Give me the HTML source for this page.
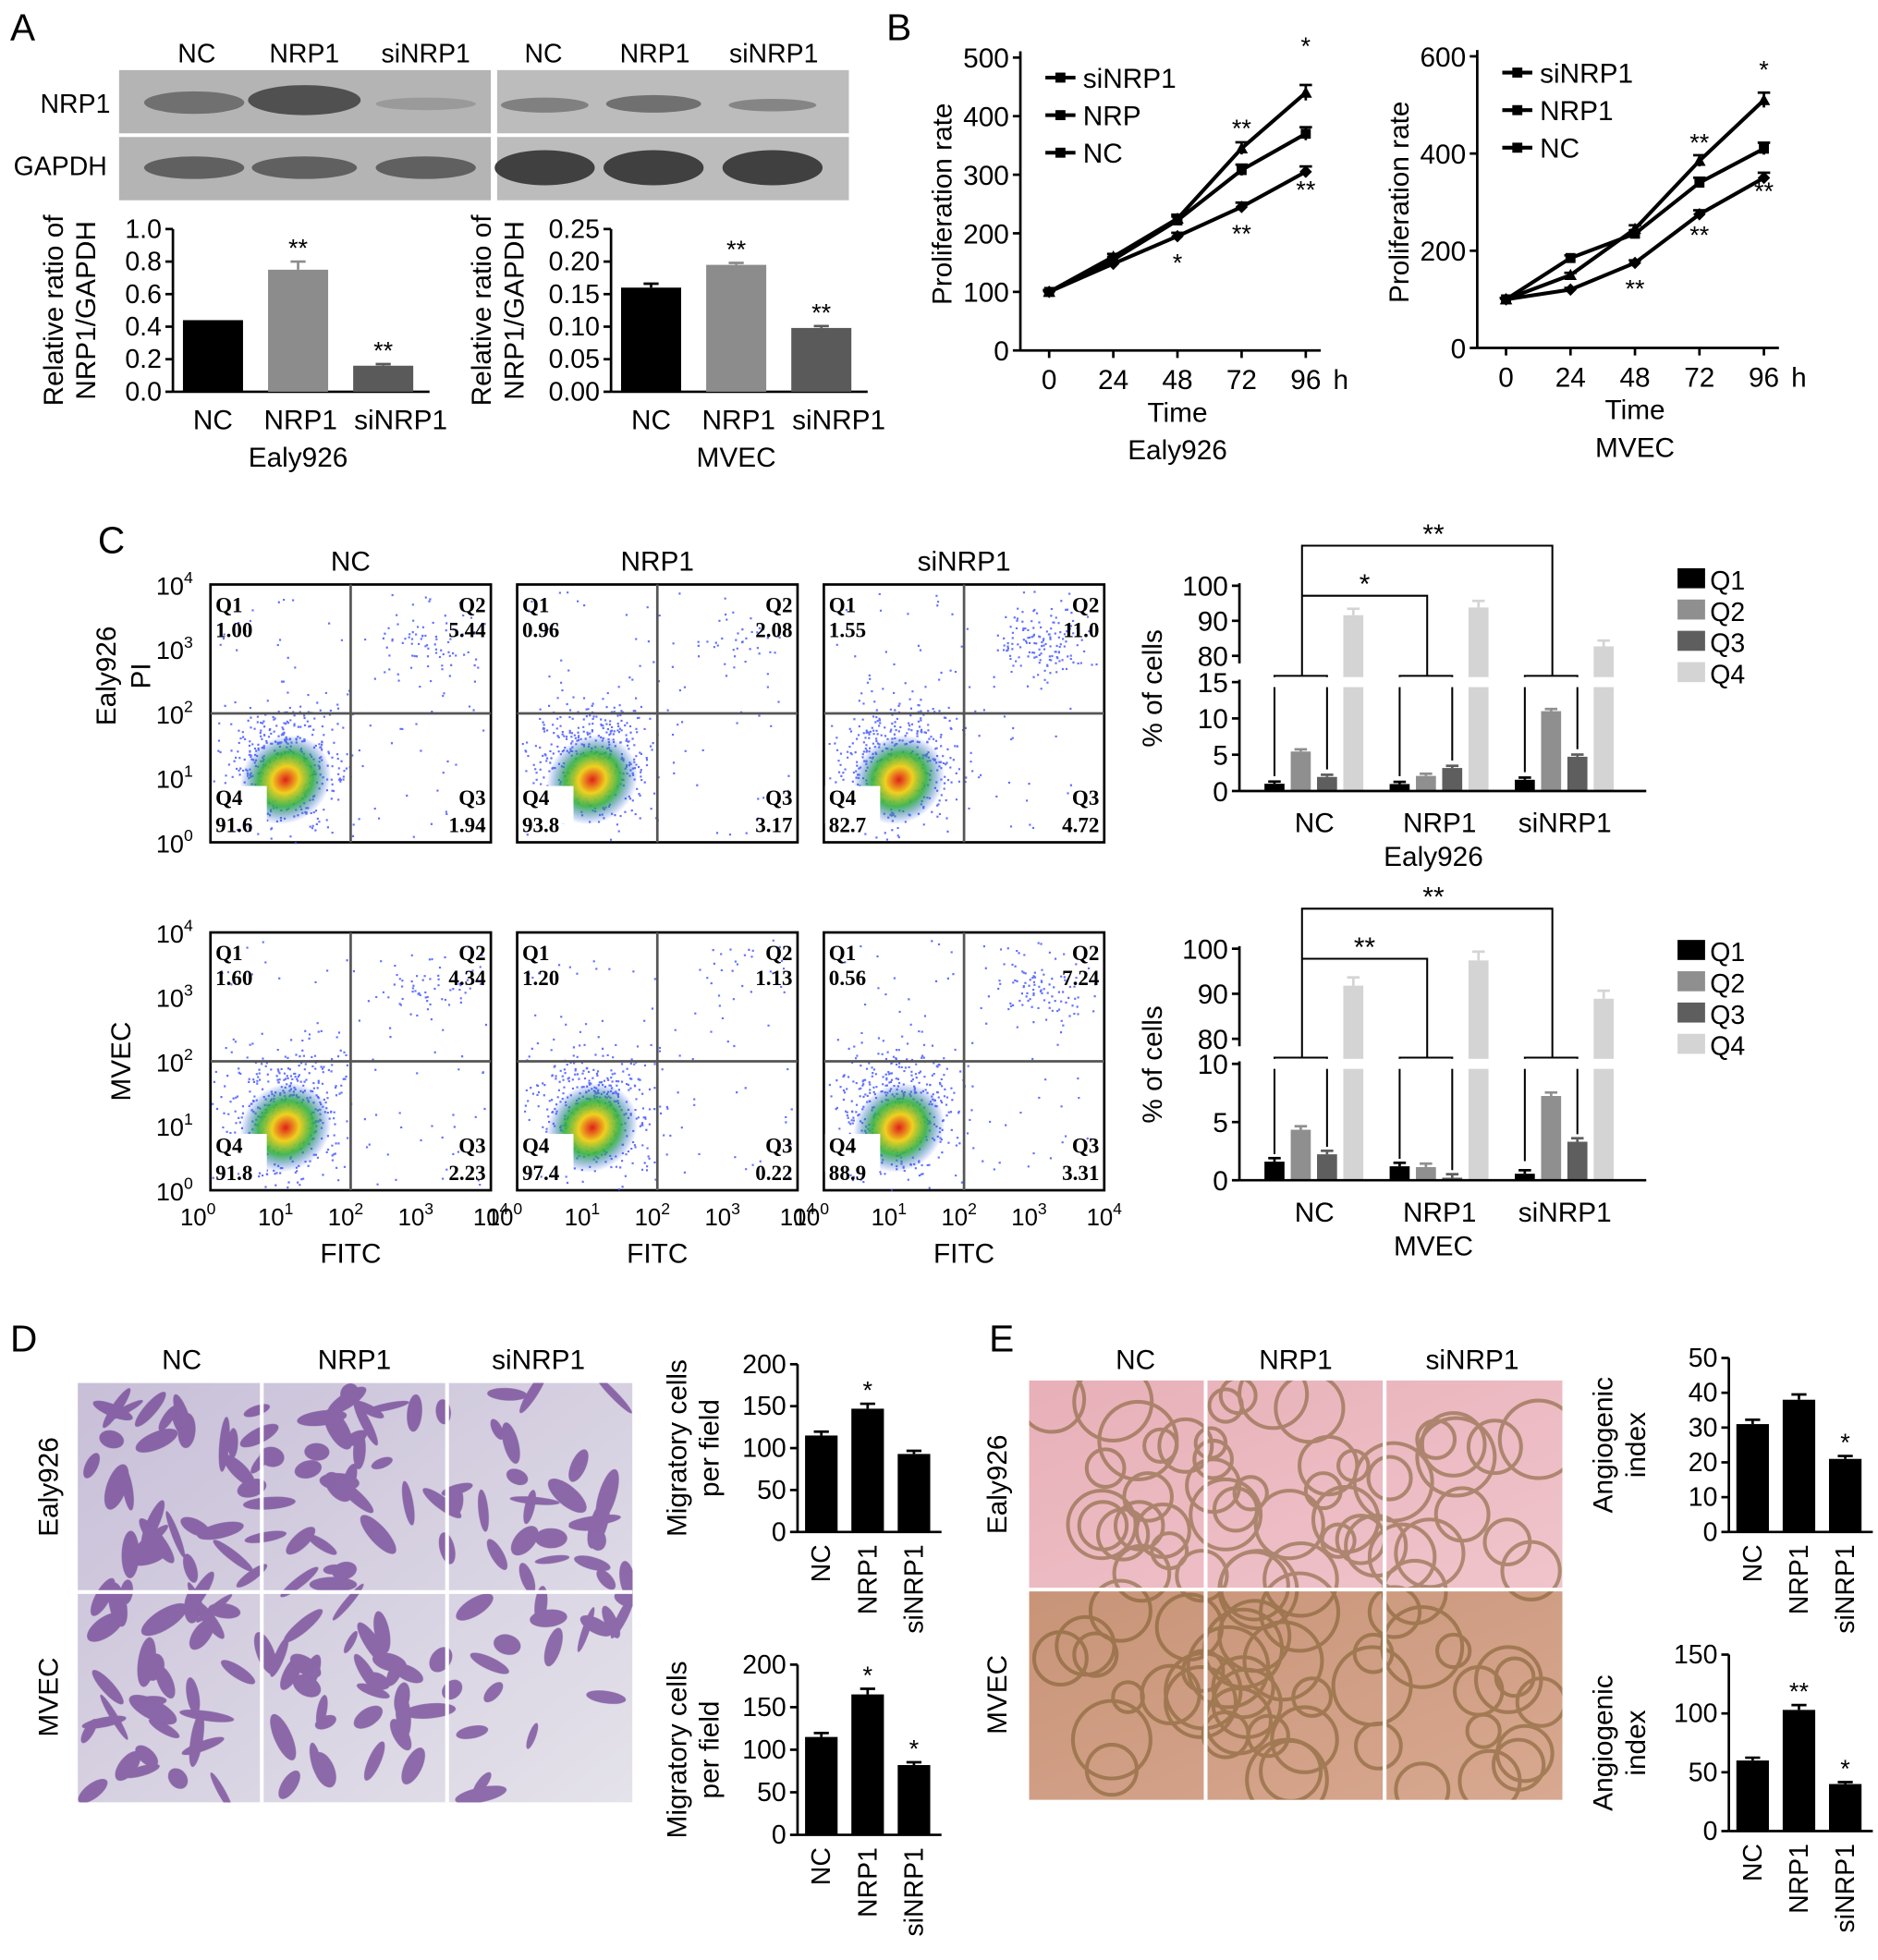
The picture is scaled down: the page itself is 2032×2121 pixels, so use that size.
<!DOCTYPE html>
<html><head><meta charset="utf-8"><style>
html,body{margin:0;padding:0;background:#fff}
svg{display:block;font-family:"Liberation Sans",Arial,sans-serif}
</style></head><body>
<svg id="fig" xmlns="http://www.w3.org/2000/svg" width="2032" height="2121" viewBox="0 0 1500 1566">
<defs>
<radialGradient id="dens"><stop offset="0" stop-color="#e0201a"/><stop offset="0.3" stop-color="#f0d020"/><stop offset="0.6" stop-color="#30b040" stop-opacity="0.9"/><stop offset="1" stop-color="#2040ff" stop-opacity="0"/></radialGradient>
<linearGradient id="imgD1" x1="0" y1="0" x2="1" y2="1"><stop offset="0" stop-color="#c8bfd8"/><stop offset="1" stop-color="#e4e2ea"/></linearGradient>
<linearGradient id="imgE1" x1="0" y1="0" x2="1" y2="1"><stop offset="0" stop-color="#e8b0b8"/><stop offset="1" stop-color="#f0c4cc"/></linearGradient>
<linearGradient id="imgE2" x1="0" y1="0" x2="1" y2="1"><stop offset="0" stop-color="#c89478"/><stop offset="1" stop-color="#d8a890"/></linearGradient>
<clipPath id="clipD"><rect x="62" y="1105" width="443" height="335"/></clipPath>
<clipPath id="clipE"><rect x="822" y="1103" width="426" height="335"/></clipPath>
</defs>
<g font-size="24">
<text x="8" y="32" font-size="30">A</text>
<text x="708" y="32" font-size="30">B</text>
<text x="78" y="442" font-size="30">C</text>
<text x="8" y="1080" font-size="30">D</text>
<text x="790" y="1080" font-size="30">E</text>
</g>
<g font-size="21">
<rect x="95" y="56" width="297" height="104" fill="#b4b4b4"/>
<rect x="397" y="56" width="281" height="104" fill="#bcbcbc"/>
<line x1="95" y1="108" x2="678" y2="108" stroke="#fff" stroke-width="3"/>
<ellipse cx="155" cy="82" rx="40" ry="9" fill="#707070"/>
<ellipse cx="243" cy="80" rx="45" ry="12" fill="#505050"/>
<ellipse cx="340" cy="83" rx="40" ry="5" fill="#9a9a9a"/>
<ellipse cx="435" cy="84" rx="35" ry="6" fill="#808080"/>
<ellipse cx="522" cy="83" rx="38" ry="7" fill="#707070"/>
<ellipse cx="617" cy="84" rx="35" ry="5" fill="#858585"/>
<ellipse cx="155" cy="134" rx="40" ry="9" fill="#606060"/>
<ellipse cx="243" cy="134" rx="42" ry="9" fill="#606060"/>
<ellipse cx="340" cy="134" rx="40" ry="9" fill="#606060"/>
<ellipse cx="435" cy="134" rx="40" ry="14" fill="#404040"/>
<ellipse cx="522" cy="134" rx="40" ry="14" fill="#404040"/>
<ellipse cx="617" cy="134" rx="40" ry="14" fill="#404040"/>
<text x="157" y="50" text-anchor="middle">NC</text><text x="243" y="50" text-anchor="middle">NRP1</text><text x="340" y="50" text-anchor="middle">siNRP1</text>
<text x="434" y="50" text-anchor="middle">NC</text><text x="523" y="50" text-anchor="middle">NRP1</text><text x="618" y="50" text-anchor="middle">siNRP1</text>
<text x="60" y="90" text-anchor="middle">NRP1</text><text x="48" y="140" text-anchor="middle">GAPDH</text>
</g>
<g font-size="22">
<rect x="62" y="1105" width="443" height="335" fill="url(#imgD1)"/>
<g id="dcells" clip-path="url(#clipD)"></g>
<line x1="209" y1="1105" x2="209" y2="1440" stroke="#fff" stroke-width="3"/>
<line x1="357" y1="1105" x2="357" y2="1440" stroke="#fff" stroke-width="3"/>
<line x1="62" y1="1272" x2="505" y2="1272" stroke="#fff" stroke-width="3"/>
<text x="145" y="1094" text-anchor="middle">NC</text><text x="283" y="1094" text-anchor="middle">NRP1</text><text x="430" y="1094" text-anchor="middle">siNRP1</text>
<text transform="translate(46,1188) rotate(-90)" text-anchor="middle">Ealy926</text>
<text transform="translate(46,1356) rotate(-90)" text-anchor="middle">MVEC</text>
</g>
<g font-size="22">
<rect x="822" y="1103" width="426" height="167" fill="url(#imgE1)"/>
<rect x="822" y="1270" width="426" height="168" fill="url(#imgE2)"/>
<g id="ecells" clip-path="url(#clipE)"></g>
<line x1="963" y1="1103" x2="963" y2="1438" stroke="#fff" stroke-width="3"/>
<line x1="1106" y1="1103" x2="1106" y2="1438" stroke="#fff" stroke-width="3"/>
<line x1="822" y1="1270" x2="1248" y2="1270" stroke="#fff" stroke-width="3"/>
<text x="907" y="1094" text-anchor="middle">NC</text><text x="1035" y="1094" text-anchor="middle">NRP1</text><text x="1176" y="1094" text-anchor="middle">siNRP1</text>
<text transform="translate(804,1186) rotate(-90)" text-anchor="middle">Ealy926</text>
<text transform="translate(804,1354) rotate(-90)" text-anchor="middle">MVEC</text>
</g>
</svg>
<script>
const catsA = ["NC","NRP1","siNRP1"];
const valsA1 = [0.44,0.75,0.16];
const errA1 = [0,0.05,0.01];
const starsA1 = ["","**","**"];
const ticksA1 = [0,0.2,0.4,0.6,0.8,1.0];
const valsA2 = [0.16,0.195,0.098];
const errA2 = [0.006,0.003,0.003];
const starsA2 = ["","**","**"];
const ticksA2 = [0,0.05,0.10,0.15,0.20,0.25];
const timeB = [0,24,48,72,96];
const b1Si = [100,160,225,345,440];
const b1Nrp = [100,155,222,308,370];
const b1Nc = [100,148,195,245,305];
const b2Si = [100,150,245,385,510];
const b2Nrp = [100,185,235,340,410];
const b2Nc = [100,120,175,275,350];
const ticksB1 = [0,100,200,300,400,500];
const ticksB2 = [0,200,400,600];
const quadLabels = ["Q1","Q2","Q3","Q4"];
const flowE_Q1 = [1.00,0.96,1.55];
const flowE_Q2 = [5.44,2.08,11.0];
const flowE_Q3 = [1.94,3.17,4.72];
const flowE_Q4 = [91.6,93.8,82.7];
const flowM_Q1 = [1.60,1.20,0.56];
const flowM_Q2 = [4.34,1.13,7.24];
const flowM_Q3 = [2.23,0.22,3.31];
const flowM_Q4 = [91.8,97.4,88.9];
const valsD1 = [115,147,93];
const valsD2 = [115,165,82];
const starsD1 = ["","*",""];
const starsD2 = ["","*","*"];
const valsE1 = [31,38,21];
const valsE2 = [60,103,40];
const starsE1 = ["","","*"];
const starsE2 = ["","**","*"];

const NS="http://www.w3.org/2000/svg";
const svg=document.getElementById('fig');
function mk(tag,a,p){const e=document.createElementNS(NS,tag);for(const k in a)e.setAttribute(k,a[k]);(p||svg).appendChild(e);return e;}
function tx(s,x,y,fs,anchor,p,rot){const e=mk('text',{x:x,y:y,'font-size':fs,'text-anchor':anchor||'middle'},p);if(rot)e.setAttribute('transform','rotate(-90 '+x+' '+y+')');e.textContent=s;return e;}

function barChart(name,o){
  const g=mk('g',{});
  
  
  const sy=v=>o.y0-(v-0)/(o.max)*(o.y0-o.y1);
  mk('line',{x1:o.ax,y1:o.y1,x2:o.ax,y2:o.y0,stroke:'#000','stroke-width':2},g);
  mk('line',{x1:o.ax,y1:o.y0,x2:o.ax+o.w,y2:o.y0,stroke:'#000','stroke-width':2},g);
  o.ticks.forEach(t=>{const y=sy(t);mk('line',{x1:o.ax-6,y1:y,x2:o.ax,y2:y,stroke:'#000','stroke-width':2},g);
    tx(o.fmt?o.fmt(t):String(t),o.ax-9,y+7,o.fs||21,'end',g);});
  o.vals.forEach((v,i)=>{const cx=o.ax+o.off+i*o.sp;
    const b=mk('rect',{x:cx-o.bw/2,y:sy(v),width:o.bw,height:o.y0-sy(v),fill:o.colors[i]},g);
    
    
    const e=o.err?o.err[i]:v*0.04;
    if(e>0){mk('line',{x1:cx,y1:sy(v),x2:cx,y2:sy(v+e),stroke:o.colors[i],'stroke-width':2},g);
      mk('line',{x1:cx-6,y1:sy(v+e),x2:cx+6,y2:sy(v+e),stroke:o.colors[i],'stroke-width':2},g);}
    if(o.stars&&o.stars[i])tx(o.stars[i],cx,sy(v+e)-4,20,'middle',g);
    if(o.rotLabels){const t=tx(o.cats[i],cx+7,o.y0+10,21,'end',g);t.setAttribute('transform','rotate(-90 '+(cx+7)+' '+(o.y0+10)+')');}
    else tx(o.cats[i],cx+(i==2?14:(i==1?2:0)),o.y0+30,22,'middle',g);
  });
  if(o.group)tx(o.group,o.ax+o.off+o.sp,o.y0+60,22,'middle',g);
  o.ytitle.forEach((l,k)=>tx(l,o.tx+k*26,(o.y0+o.y1)/2,22,'middle',g,true));
}
barChart('nrp1-ratio-ealy926',{ax:138,y0:313,y1:183,max:1.0,w:205,off:32,sp:68,bw:48,ticks:ticksA1,fmt:t=>t.toFixed(1),cats:catsA,vals:valsA1,err:errA1,stars:starsA1,colors:['#000','#8c8c8c','#5a5a5a'],group:'Ealy926',ytitle:['Relative ratio of','NRP1/GAPDH'],tx:50});
barChart('nrp1-ratio-mvec',{ax:488,y0:313,y1:183,max:0.25,w:205,off:32,sp:68,bw:48,ticks:ticksA2,fmt:t=>t.toFixed(2),cats:catsA,vals:valsA2,err:errA2,stars:starsA2,colors:['#000','#8c8c8c','#5a5a5a'],group:'MVEC',ytitle:['Relative ratio of','NRP1/GAPDH'],tx:392});

barChart('migration-ealy926',{ax:637,y0:1224,y1:1090,max:200,w:115,off:19,sp:37,bw:26,ticks:[0,50,100,150,200],cats:catsA,vals:valsD1,stars:starsD1,colors:['#000','#000','#000'],rotLabels:true,ytitle:['Migratory cells','per field'],tx:548});
barChart('migration-mvec',{ax:637,y0:1466,y1:1330,max:200,w:115,off:19,sp:37,bw:26,ticks:[0,50,100,150,200],cats:catsA,vals:valsD2,stars:starsD2,colors:['#000','#000','#000'],rotLabels:true,ytitle:['Migratory cells','per field'],tx:548});
barChart('angiogenic-ealy926',{ax:1381,y0:1224,y1:1085,max:50,w:115,off:19,sp:37,bw:26,ticks:[0,10,20,30,40,50],cats:catsA,vals:valsE1,stars:starsE1,colors:['#000','#000','#000'],rotLabels:true,ytitle:['Angiogenic','index'],tx:1288});
barChart('angiogenic-mvec',{ax:1381,y0:1463,y1:1322,max:150,w:115,off:19,sp:37,bw:26,ticks:[0,50,100,150],cats:catsA,vals:valsE2,stars:starsE2,colors:['#000','#000','#000'],rotLabels:true,ytitle:['Angiogenic','index'],tx:1288});

function lineChart(name,o){
  const g=mk('g',{});
  
  
  const sx=t=>o.x0+t/96*(o.x1-o.x0);
  const sy=v=>o.y0-v/o.max*(o.y0-o.y1);
  mk('line',{x1:o.ax,y1:o.y1-5,x2:o.ax,y2:o.y0,stroke:'#000','stroke-width':2},g);
  mk('line',{x1:o.ax,y1:o.y0,x2:o.x1+12,y2:o.y0,stroke:'#000','stroke-width':2},g);
  o.ticks.forEach(t=>{const y=sy(t);mk('line',{x1:o.ax-6,y1:y,x2:o.ax,y2:y,stroke:'#000','stroke-width':2},g);tx(String(t),o.ax-9,y+8,22,'end',g);});
  timeB.forEach(t=>{const x=sx(t);mk('line',{x1:x,y1:o.y0,x2:x,y2:o.y0+6,stroke:'#000','stroke-width':2},g);tx(String(t),x,o.y0+31,22,'middle',g);});
  tx('h',o.x1+28,o.y0+31,22,'middle',g);
  tx('Time',sx(48),o.y0+57,22,'middle',g);
  tx(o.group,sx(48),o.y0+87,22,'middle',g);
  tx('Proliferation rate',o.ax-55,(o.y0+o.y1)/2,22,'middle',g,true);
  o.series.forEach((s,k)=>{
    const pts=s.v.map((v,i)=>sx(timeB[i])+','+sy(v)).join(' ');
    const pl=mk('polyline',{points:pts,fill:'none',stroke:'#000','stroke-width':3},g);
    
    
    s.v.forEach((v,i)=>{const x=sx(timeB[i]),y=sy(v);
      if(k==1)mk('rect',{x:x-4,y:y-4,width:8,height:8},g);else if(k==0)mk('path',{d:`M${x-5},${y+4}L${x+5},${y+4}L${x},${y-5}Z`},g);else mk('path',{d:`M${x},${y-5}L${x+5},${y}L${x},${y+5}L${x-5},${y}Z`},g);
      const e=v*0.03;mk('line',{x1:x,y1:sy(v+e),x2:x,y2:sy(v-e),stroke:'#000','stroke-width':2},g);mk('line',{x1:x-5,y1:sy(v+e),x2:x+5,y2:sy(v+e),stroke:'#000','stroke-width':2},g);});
    const ly=o.legY+k*30;
    mk('line',{x1:o.legX,y1:ly,x2:o.legX+24,y2:ly,stroke:'#000','stroke-width':3},g);
    mk('rect',{x:o.legX+8,y:ly-4,width:8,height:8},g);
    tx(s.n,o.legX+30,ly+8,22,'start',g);
  });
  o.stars.forEach(s=>tx(s[0],sx(s[1]),sy(s[2]),20,'middle',g));
}
lineChart('proliferation-ealy926',{ax:815,x0:838,x1:1043,y0:280,y1:46,max:500,ticks:ticksB1,group:'Ealy926',legX:835,legY:62,
  series:[{n:'siNRP1',v:b1Si},{n:'NRP',v:b1Nrp},{n:'NC',v:b1Nc}],
  stars:[['*',96,b1Si[4]+65],['**',72,b1Si[3]+20],['**',96,b1Nc[4]-45],['**',72,b1Nc[3]-60],['*',48,b1Nc[2]-60]]});
lineChart('proliferation-mvec',{ax:1180,x0:1203,x1:1409,y0:278,y1:45,max:600,ticks:ticksB2,group:'MVEC',legX:1200,legY:58,
  series:[{n:'siNRP1',v:b2Si},{n:'NRP1',v:b2Nrp},{n:'NC',v:b2Nc}],
  stars:[['*',96,b2Si[4]+45],['**',72,b2Si[3]+20],['**',96,b2Nc[4]-45],['**',72,b2Nc[3]-60],['**',48,b2Nc[2]-70]]});

let seed=12345;function rnd(){seed=(seed*1103515245+12345)%2147483648;return seed/2147483648;}
function gauss(){return (rnd()+rnd()+rnd()-1.5)/0.5;}
function flowPlot(name,x,y,row,col,q){
  const W=224,H=206,g=mk('g',{});
  
  
  mk('rect',{x:x,y:y,width:W,height:H,fill:'#fff',stroke:'#000','stroke-width':2},g);
  const mx=x+W/2,my=y+H/2;
  let dots='';
  for(let i=0;i<450;i++){const px=x+45+gauss()*22+rnd()*30,py=y+H-50+gauss()*24-rnd()*25;
    if(px>x&&px<x+W&&py>y&&py<y+H)dots+=`M${px.toFixed(1)},${py.toFixed(1)}h1.6v1.6h-1.6z`;}
  const nq2=Math.round(q[1]*12);
  for(let i=0;i<nq2;i++){const px=x+W*0.78+gauss()*18,py=y+H*0.22+gauss()*14;dots+=`M${px.toFixed(1)},${py.toFixed(1)}h1.6v1.6h-1.6z`;}
  for(let i=0;i<90;i++){const px=x+5+rnd()*(W-10),py=y+5+rnd()*(H-10);dots+=`M${px.toFixed(1)},${py.toFixed(1)}h1.6v1.6h-1.6z`;}
  mk('path',{d:dots,fill:'#3a4cff',opacity:0.8},g);
  mk('ellipse',{cx:x+60,cy:y+H-50,rx:38,ry:34,fill:'url(#dens)',transform:`rotate(-40 ${x+60} ${y+H-50})`},g);
  mk('rect',{x:x+1,y:y+H-45,width:44,height:30,fill:'#fff'},g);
  mk('line',{x1:mx,y1:y,x2:mx,y2:y+H,stroke:'#555','stroke-width':2},g);
  mk('line',{x1:x,y1:my,x2:x+W,y2:my,stroke:'#555','stroke-width':2},g);
  const f='Liberation Serif';
  [['Q1',x+4,y+22,'start'],[q[0].toFixed(2),x+4,y+42,'start'],['Q2',x+W-4,y+22,'end'],[q[1]>=10?q[1].toFixed(1):q[1].toFixed(2),x+W-4,y+42,'end'],
   ['Q4',x+4,y+H-30,'start'],[q[3].toFixed(1),x+4,y+H-8,'start'],['Q3',x+W-4,y+H-30,'end'],[q[2].toFixed(2),x+W-4,y+H-8,'end']].forEach(a=>{
     const t=tx(a[0],a[1],a[2],17,a[3],g);t.setAttribute('font-family',f);t.setAttribute('font-weight','bold');});
  if(col==0){for(let k=0;k<=4;k++){const yy=y+H-k*H/4;const t=tx('10',x-14,yy+8,20,'end',g);const s=document.createElementNS(NS,'tspan');s.setAttribute('dy','-9');s.setAttribute('font-size','13');s.textContent=k;t.appendChild(s);}}
  if(row==1){for(let k=0;k<=4;k++){const xx=x+k*W/4+(k==0?-6:(k==4?4:0));const t=tx('10',xx-4,y+H+28,19,'middle',g);const s=document.createElementNS(NS,'tspan');s.setAttribute('dy','-9');s.setAttribute('font-size','13');s.textContent=k;t.appendChild(s);}
    tx('FITC',x+W/2,y+H+58,22,'middle',g);}
}
const fx=[168,413,658],fy=[467,745];
for(let c=0;c<3;c++){
  flowPlot('flow-ealy926-'+catsA[c].toLowerCase(),fx[c],fy[0],0,c,[flowE_Q1[c],flowE_Q2[c],flowE_Q3[c],flowE_Q4[c]]);
  flowPlot('flow-mvec-'+catsA[c].toLowerCase(),fx[c],fy[1],1,c,[flowM_Q1[c],flowM_Q2[c],flowM_Q3[c],flowM_Q4[c]]);
  tx(catsA[c],fx[c]+112,456,22,'middle');
}
tx('Ealy926',92,540,22,'middle',svg,true);tx('PI',120,540,22,'middle',svg,true);tx('MVEC',104,848,22,'middle',svg,true);

function quadChart(name,o,Q1,Q2,Q3,Q4){
  const g=mk('g',{});
  
  
  const sy=v=>v<=o.lowMax?o.y0-v/o.lowMax*(o.y0-o.yLowTop):o.y80-(v-80)/20*(o.y80-o.y100);
  const cols=['#000','#8f8f8f','#5e5e5e','#d4d4d4'];
  const series=[Q1,Q2,Q3,Q4];
  for(let c=0;c<3;c++){const gx=o.ax+20+c*100;
    series.forEach((s,k)=>{const v=s[c],cx=gx+k*21,bw=16;
      let top=sy(v);const b=mk('rect',{x:cx,y:top,width:bw,height:o.y0-top,fill:cols[k]},g);
      
      
      const e=Math.max(0.3,v*0.02);mk('line',{x1:cx+bw/2,y1:top,x2:cx+bw/2,y2:sy(v+e),stroke:cols[k],'stroke-width':2},g);
      mk('line',{x1:cx+3,y1:sy(v+e),x2:cx+bw-3,y2:sy(v+e),stroke:cols[k],'stroke-width':2},g);});
    tx(catsA[c],gx+40,o.y0+33,22,'middle',g);
    const bx1=gx+8,bx2=gx+50,by=o.yLowTop-5;
    mk('path',{d:`M${bx1},${sy(Math.max(Q1[c],1))-6}V${by}H${bx2}V${sy(Q3[c])-6}`,fill:'none',stroke:'#000','stroke-width':1.5},g);
  }
  mk('rect',{x:o.ax+1,y:o.yLowTop-4,width:320,height:o.gap,fill:'#fff'},g);
  mk('line',{x1:o.ax,y1:o.y0,x2:o.ax+325,y2:o.y0,stroke:'#000','stroke-width':2},g);
  mk('line',{x1:o.ax,y1:o.yLowTop-2,x2:o.ax,y2:o.y0,stroke:'#000','stroke-width':2},g);
  mk('line',{x1:o.ax,y1:o.y100-2,x2:o.ax,y2:o.y80+6,stroke:'#000','stroke-width':2},g);
  o.lowTicks.forEach(t=>{const y=sy(t);mk('line',{x1:o.ax-6,y1:y,x2:o.ax,y2:y,stroke:'#000','stroke-width':2},g);tx(String(t),o.ax-9,y+8,22,'end',g);});
  [80,90,100].forEach(t=>{const y=sy(t);mk('line',{x1:o.ax-6,y1:y,x2:o.ax,y2:y,stroke:'#000','stroke-width':2},g);tx(String(t),o.ax-9,y+8,22,'end',g);});
  tx(o.group,o.ax+155,o.y0+60,22,'middle',g);
  tx('% of cells',o.ax-62,(o.y0+o.y100)/2,22,'middle',g,true);
  const cx1=o.ax+50,cx2=o.ax+150,cx3=o.ax+250;
  mk('path',{d:`M${cx1},${o.yLowTop-5}V${o.y100-32}H${cx3}V${o.yLowTop-5}`,fill:'none',stroke:'#000','stroke-width':1.5},g);
  mk('path',{d:`M${cx1},${o.y100+8}H${cx2}V${o.yLowTop-5}`,fill:'none',stroke:'#000','stroke-width':1.5},g);
  tx('**',o.ax+155,o.y100-34,22,'middle',g);tx(o.s2,o.ax+100,o.y100+6,22,'middle',g);
  quadLabels.forEach((l,k)=>{const ly=o.legY+k*25;mk('rect',{x:1340,y:ly-9,width:22,height:16,fill:cols[k]},g);tx(l,1366,ly+8,21,'start',g);});
}
quadChart('apoptosis-ealy926',{ax:990,y0:632,yLowTop:545,lowMax:15,lowTicks:[0,5,10,15],y80:524,y100:468,gap:8,group:'Ealy926',s2:'*',legY:463},flowE_Q1,flowE_Q2,flowE_Q3,flowE_Q4);
quadChart('apoptosis-mvec',{ax:990,y0:943,yLowTop:850,lowMax:10,lowTicks:[0,5,10],y80:830,y100:758,gap:8,group:'MVEC',s2:'**',legY:760},flowM_Q1,flowM_Q2,flowM_Q3,flowM_Q4);

const dc=document.getElementById('dcells');
let dp='';for(let i=0;i<170;i++){const x=66+rnd()*435,y=1110+rnd()*325,a=rnd()*180;dp+=`<ellipse cx="${x.toFixed(0)}" cy="${y.toFixed(0)}" rx="${(8+rnd()*14).toFixed(0)}" ry="${(3+rnd()*5).toFixed(0)}" transform="rotate(${a.toFixed(0)} ${x.toFixed(0)} ${y.toFixed(0)})"/>`;}
dc.innerHTML='<g fill="#6a3a90" opacity="0.7">'+dp+'</g>';
const ec=document.getElementById('ecells');
let ep='';for(let i=0;i<90;i++){const x=830+rnd()*410,y=1110+rnd()*320;ep+=`<circle cx="${x.toFixed(0)}" cy="${y.toFixed(0)}" r="${(12+rnd()*20).toFixed(0)}"/>`;}
ec.innerHTML='<g fill="none" stroke="#7a5a2a" stroke-width="3" opacity="0.55">'+ep+'</g>';
</script>
</body></html>
